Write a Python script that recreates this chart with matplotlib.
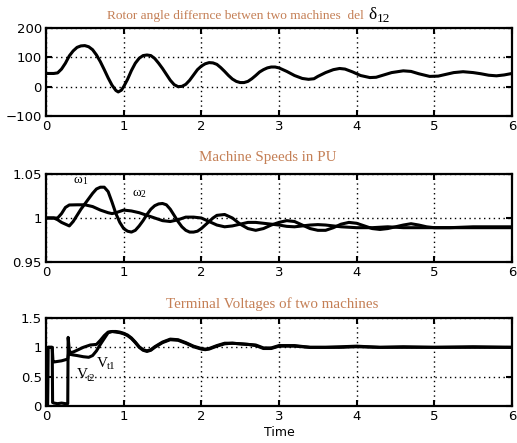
import matplotlib
matplotlib.use("Agg")
import matplotlib.pyplot as plt

# ---------------- data ----------------
# Rotor angle difference (deg)
t_delta = [0.0, 0.1, 0.15, 0.2, 0.25, 0.3, 0.35, 0.4, 0.45, 0.5, 0.55, 0.6, 0.65, 0.7, 0.75,
           0.8, 0.85, 0.9, 0.93, 0.97, 1.0, 1.05, 1.1, 1.15, 1.2, 1.25, 1.3, 1.35, 1.4, 1.45,
           1.5, 1.55, 1.6, 1.65, 1.7, 1.75, 1.8, 1.85, 1.9, 1.95, 2.0, 2.05, 2.1, 2.15, 2.2,
           2.25, 2.3, 2.35, 2.4, 2.45, 2.5, 2.55, 2.6, 2.65, 2.7, 2.75, 2.8, 2.85, 2.9, 2.95,
           3.0, 3.1, 3.2, 3.3, 3.38, 3.45, 3.5, 3.6, 3.7, 3.78, 3.85, 3.95, 4.05, 4.17, 4.25,
           4.35, 4.45, 4.6, 4.7, 4.8, 4.94, 5.05, 5.15, 5.25, 5.37, 5.5, 5.6, 5.7, 5.8, 5.9, 6.0]
delta12 = [45, 45, 47, 60, 80, 105, 122, 134, 139, 140, 136, 126, 108, 85, 58,
           30, 5, -13, -18, -12, 0, 25, 55, 80, 97, 106, 108, 106, 96, 80,
           62, 42, 22, 7, 0, 1, 8, 22, 40, 58, 70, 78, 82, 81, 76,
           65, 52, 38, 26, 18, 14, 14, 18, 27, 38, 50, 58, 64, 67, 67,
           64, 52, 38, 28, 25, 27, 35, 48, 58, 62, 60, 50, 38, 31, 32,
           40, 48, 54, 52, 44, 35, 36, 42, 48, 51, 48, 44, 39, 37, 40, 45]

# Machine speeds (pu)
t_w1 = [0.0, 0.1, 0.15, 0.2, 0.25, 0.3, 0.35, 0.4, 0.45, 0.5, 0.55, 0.6, 0.65, 0.7, 0.75,
        0.8, 0.85, 0.9, 0.95, 1.0, 1.05, 1.1, 1.15, 1.2, 1.25, 1.3, 1.35, 1.4, 1.45, 1.5,
        1.55, 1.6, 1.65, 1.7, 1.75, 1.8, 1.85, 1.9, 1.95, 2.0, 2.05, 2.1, 2.15, 2.2, 2.3,
        2.4, 2.5, 2.6, 2.7, 2.8, 2.9, 3.0, 3.1, 3.2, 3.3, 3.4, 3.5, 3.6, 3.7, 3.8, 3.9,
        4.0, 4.1, 4.2, 4.3, 4.4, 4.5, 4.6, 4.7, 4.8, 4.9, 5.0, 5.2, 5.5, 6.0]
w1 = [1.0, 1.0, 0.998, 0.995, 0.993, 0.991, 0.996, 1.003, 1.010, 1.016, 1.022, 1.028, 1.033, 1.035, 1.035,
      1.030, 1.018, 1.005, 0.995, 0.988, 0.985, 0.984, 0.986, 0.991, 0.997, 1.004, 1.010, 1.014, 1.016, 1.0165,
      1.015, 1.010, 1.003, 0.996, 0.990, 0.986, 0.984, 0.984, 0.985, 0.988, 0.992, 0.996, 1.000, 1.003, 1.004,
      1.000, 0.993, 0.988, 0.986, 0.988, 0.992, 0.995, 0.997, 0.996, 0.992, 0.988, 0.986, 0.986, 0.989, 0.993, 0.995,
      0.994, 0.991, 0.988, 0.987, 0.988, 0.990, 0.992, 0.9935, 0.992, 0.990, 0.989, 0.989, 0.990, 0.990]

t_w2 = [0.0, 0.15, 0.2, 0.25, 0.3, 0.4, 0.5, 0.6, 0.7, 0.8, 0.85, 0.9, 1.0, 1.1, 1.2,
        1.3, 1.4, 1.5, 1.6, 1.7, 1.8, 1.9, 2.0, 2.1, 2.2, 2.3, 2.4, 2.5, 2.6, 2.7,
        2.8, 2.9, 3.0, 3.1, 3.2, 3.3, 3.4, 3.5, 3.6, 3.7, 3.8, 3.9, 4.0, 4.2, 4.4,
        4.6, 4.8, 5.0, 6.0]
w2 = [1.0, 1.0, 1.005, 1.012, 1.0148, 1.015, 1.015, 1.013, 1.009, 1.006, 1.005, 1.006, 1.009, 1.008, 1.006,
      1.003, 1.000, 0.997, 0.996, 0.998, 1.001, 1.001, 1.000, 0.996, 0.992, 0.990, 0.991, 0.993, 0.995, 0.995,
      0.994, 0.993, 0.992, 0.9905, 0.990, 0.991, 0.992, 0.9925, 0.992, 0.991, 0.990, 0.9895, 0.989, 0.989, 0.990,
      0.989, 0.989, 0.989, 0.989]

# Terminal voltages (pu)
t_vt1 = [0.0, 0.02, 0.025, 0.08, 0.09, 0.1, 0.2, 0.28, 0.29, 0.31, 0.35, 0.4, 0.48, 0.55, 0.6,
         0.65, 0.7, 0.75, 0.8, 0.85, 0.9, 0.95, 1.0, 1.05, 1.1, 1.15, 1.2, 1.25, 1.3, 1.35,
         1.4, 1.5, 1.6, 1.7, 1.8, 1.9, 2.0, 2.05, 2.1, 2.2, 2.3, 2.4, 2.5, 2.6, 2.7,
         2.8, 2.9, 3.0, 3.2, 3.4, 3.6, 3.8, 4.0, 4.3, 4.6, 5.0, 5.5, 6.0]
vt1 = [0.0, 0.0, 1.0, 1.0, 0.76, 0.75, 0.77, 0.80, 0.89, 0.88, 0.87, 0.86, 0.84, 0.83, 0.86,
       0.94, 1.05, 1.15, 1.25, 1.27, 1.26, 1.25, 1.23, 1.20, 1.15, 1.08, 1.0, 0.95, 0.93, 0.95,
       1.0, 1.08, 1.13, 1.12, 1.07, 1.01, 0.97, 0.96, 0.97, 1.02, 1.06, 1.07, 1.06, 1.05, 1.03,
       0.98, 0.98, 1.02, 1.02, 1.0, 1.0, 1.01, 1.02, 1.0, 1.01, 1.0, 1.01, 1.0]

t_vt2 = [0.0, 0.02, 0.025, 0.08, 0.085, 0.1, 0.15, 0.2, 0.25, 0.28, 0.285, 0.29, 0.3, 0.31, 0.35,
         0.4, 0.48, 0.57, 0.65, 0.7, 0.75, 0.8, 0.85, 0.9, 0.95, 1.0, 1.05, 1.1, 1.15, 1.2,
         1.25, 1.3, 1.35, 1.4, 1.5, 1.6, 1.7, 1.8, 1.9, 2.0, 2.05, 2.1, 2.2, 2.3, 2.4,
         2.5, 2.6, 2.7, 2.8, 2.9, 3.0, 3.2, 3.4, 3.6, 3.8, 4.0, 4.3, 4.6, 5.0, 5.5, 6.0]
vt2 = [0.0, 0.0, 1.0, 1.0, 0.06, 0.05, 0.04, 0.05, 0.04, 0.04, 1.17, 1.1, 0.95, 0.91, 0.92,
       0.95, 1.0, 1.04, 1.05, 1.12, 1.2, 1.26, 1.27, 1.27, 1.26, 1.24, 1.21, 1.16, 1.09, 1.01,
       0.96, 0.94, 0.96, 1.01, 1.09, 1.14, 1.13, 1.08, 1.02, 0.98, 0.97, 0.98, 1.03, 1.07, 1.07,
       1.06, 1.05, 1.04, 0.99, 0.99, 1.03, 1.03, 1.0, 1.0, 1.0, 1.01, 1.0, 1.0, 1.0, 1.0, 1.0]

x_ticks = [0, 1, 2, 3, 4, 5, 6]
delta_ticks = [-100, 0, 100, 200]
w_ticks = [0.95, 1.0, 1.05]
w_ticklabels = ["0.95", "1", "1.05"]
v_ticks = [0, 0.5, 1.0, 1.5]
v_ticklabels = ["0", "0.5", "1", "1.5"]

titles = ["Rotor angle differnce betwen two machines  del", "Machine Speeds in PU",
          "Terminal Voltages of two machines"]

# ---------------- figure ----------------
W, H = 517, 443
fig = plt.figure(figsize=(W / 100, H / 100), dpi=100)
title_color = "#c47f55"
serif = ["Liberation Serif", "DejaVu Serif"]


def px_ax(left, top, right, bottom):
    return [left / W, 1 - bottom / H, (right - left) / W, (bottom - top) / H]


ax1 = fig.add_axes(px_ax(46, 28, 512, 116))
ax2 = fig.add_axes(px_ax(46, 174, 512, 262))
ax3 = fig.add_axes(px_ax(46, 318, 512, 406))

for ax in (ax1, ax2, ax3):
    ax.set_xlim(0, 6)
    ax.set_xticks(x_ticks)
    ax.grid(True, linestyle=(0, (1, 2.5)), color="black", linewidth=1.0)
    ax.tick_params(direction="in", length=4, width=1.5, top=True, right=True,
                   labelsize=9.5, pad=3, colors="black")
    for s in ax.spines.values():
        s.set_linewidth(1.6)

ax1.plot(t_delta, delta12, color="black", linewidth=2.2)
ax1.set_ylim(-100, 200)
ax1.set_yticks(delta_ticks)

ax2.plot(t_w1, w1, color="black", linewidth=2.2)
ax2.plot(t_w2, w2, color="black", linewidth=2.2)
ax2.set_ylim(0.95, 1.05)
ax2.set_yticks(w_ticks)
ax2.set_yticklabels(w_ticklabels)

ax3.plot(t_vt1, vt1, color="black", linewidth=2.2)
ax3.plot(t_vt2, vt2, color="black", linewidth=2.2)
ax3.set_ylim(0, 1.5)
ax3.set_yticks(v_ticks)
ax3.set_yticklabels(v_ticklabels)
ax3.set_xlabel("Time", fontsize=9, labelpad=2)

# titles
fig.text(107 / W, 1 - 19 / H, titles[0], color=title_color, fontsize=9.6,
         family=serif, ha="left", va="baseline")
fig.text(368 / W, 1 - 19 / H, "δ", color="black", fontsize=12.5, family=serif,
         ha="left", va="baseline")
fig.text(377 / W, 1 - 22 / H, "12", color="black", fontsize=9.5, family=serif,
         ha="left", va="baseline")
fig.text(268 / W, 1 - 161 / H, titles[1], color=title_color, fontsize=10.8,
         family=serif, ha="center", va="baseline")
fig.text(272 / W, 1 - 308 / H, titles[2], color=title_color, fontsize=10.8,
         family=serif, ha="center", va="baseline")

# curve labels
ax2.text(0.36, 1.036, "ω", fontsize=9.5, family=serif, ha="left", va="bottom")
ax2.text(0.46, 1.036, "1", fontsize=7, family=serif, ha="left", va="bottom")
ax2.text(1.12, 1.022, "ω", fontsize=9.5, family=serif, ha="left", va="bottom")
ax2.text(1.22, 1.022, "2", fontsize=7, family=serif, ha="left", va="bottom")

ax3.text(0.66, 0.62, "V", fontsize=11, family=serif, ha="left", va="bottom")
ax3.text(0.79, 0.60, "t1", fontsize=8, family=serif, ha="left", va="bottom")
ax3.text(0.40, 0.42, "V", fontsize=11, family=serif, ha="left", va="bottom")
ax3.text(0.53, 0.40, "t2", fontsize=8, family=serif, ha="left", va="bottom")

fig.savefig("out.png", dpi=100)
